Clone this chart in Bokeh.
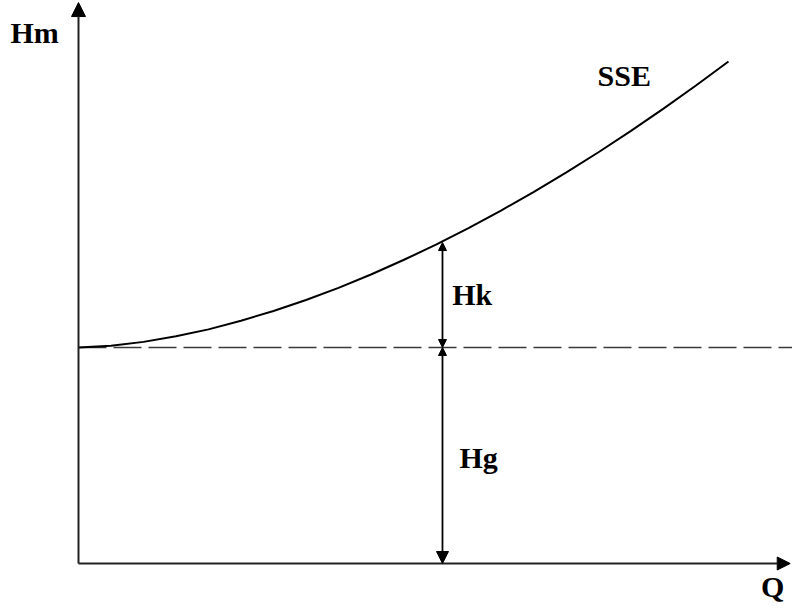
from bokeh.plotting import figure
from bokeh.models import Range1d, Arrow, NormalHead, Label
from bokeh.embed import file_html
from bokeh.resources import INLINE

# Data (arbitrary units)
q_curve = [0.0, 0.5, 1.0, 1.5, 2.0, 2.5, 3.0, 3.5, 4.0, 4.5, 5.0,
           5.5, 6.0, 6.5, 7.0, 7.5, 8.0, 8.5, 9.0, 9.5, 10.0]
h_curve = [10.0, 10.08, 10.26, 10.52, 10.84, 11.24, 11.69, 12.20, 12.76, 13.38, 14.05,
           14.76, 15.53, 16.34, 17.19, 18.10, 19.04, 20.03, 21.06, 22.13, 23.24]
hg_level = 10.0          # static head Hg
q_operating = 5.6        # operating flow where Hk / Hg are marked
h_operating = 14.86      # curve value at operating flow
q_axis_end = 10.95
h_axis_end = 25.97

x_start, x_end = -1.2, 10.985
y_start, y_end = -2.13, 26.065

p = figure(width=792, height=609, output_backend="svg", toolbar_location=None,
           x_range=Range1d(x_start, x_end), y_range=Range1d(y_start, y_end),
           min_border=0, min_border_left=0, min_border_right=0,
           min_border_top=0, min_border_bottom=0)
p.axis.visible = False
p.grid.visible = False
p.outline_line_color = None
p.background_fill_color = "white"
p.border_fill_color = "white"

# Dashed Hg level line
p.segment(x0=[0], y0=[hg_level], x1=[x_end], y1=[hg_level],
          line_color="#3a3a3a", line_width=1.6, line_dash="28 7")

# System curve
p.line(q_curve, h_curve, line_color="black", line_width=2)

# Axes with arrowheads
p.add_layout(Arrow(end=NormalHead(size=14, fill_color="black", line_color="black"),
                   x_start=0, y_start=0, x_end=0, y_end=h_axis_end,
                   line_color="#222222", line_width=2))
p.add_layout(Arrow(end=NormalHead(size=13, fill_color="black", line_color="black"),
                   x_start=0, y_start=0, x_end=q_axis_end, y_end=0,
                   line_color="#222222", line_width=2))

# Hk double arrow
p.add_layout(Arrow(start=NormalHead(size=8, fill_color="black", line_color="black"),
                   end=NormalHead(size=8, fill_color="black", line_color="black"),
                   x_start=q_operating, y_start=hg_level, x_end=q_operating, y_end=h_operating,
                   line_color="black", line_width=1.8))
# Hg double arrow
p.add_layout(Arrow(start=NormalHead(size=8, fill_color="black", line_color="black"),
                   end=NormalHead(size=12, fill_color="black", line_color="black"),
                   x_start=q_operating, y_start=hg_level, x_end=q_operating, y_end=0,
                   line_color="black", line_width=1.8))

font = "Liberation Serif"
def lab(x, y, t):
    p.add_layout(Label(x=x, y=y, text=t, text_font=font, text_font_size="30px",
                       text_font_style="bold", text_color="black",
                       text_baseline="alphabetic", text_align="left"))

lab(-1.046, 24.57, "Hm")
lab(7.985, 22.58, "SSE")
lab(5.75, 12.44, "Hk")
lab(5.86, 4.90, "Hg")
lab(10.50, -1.05, "Q")

open("out.html", "w").write(file_html(p, INLINE))
